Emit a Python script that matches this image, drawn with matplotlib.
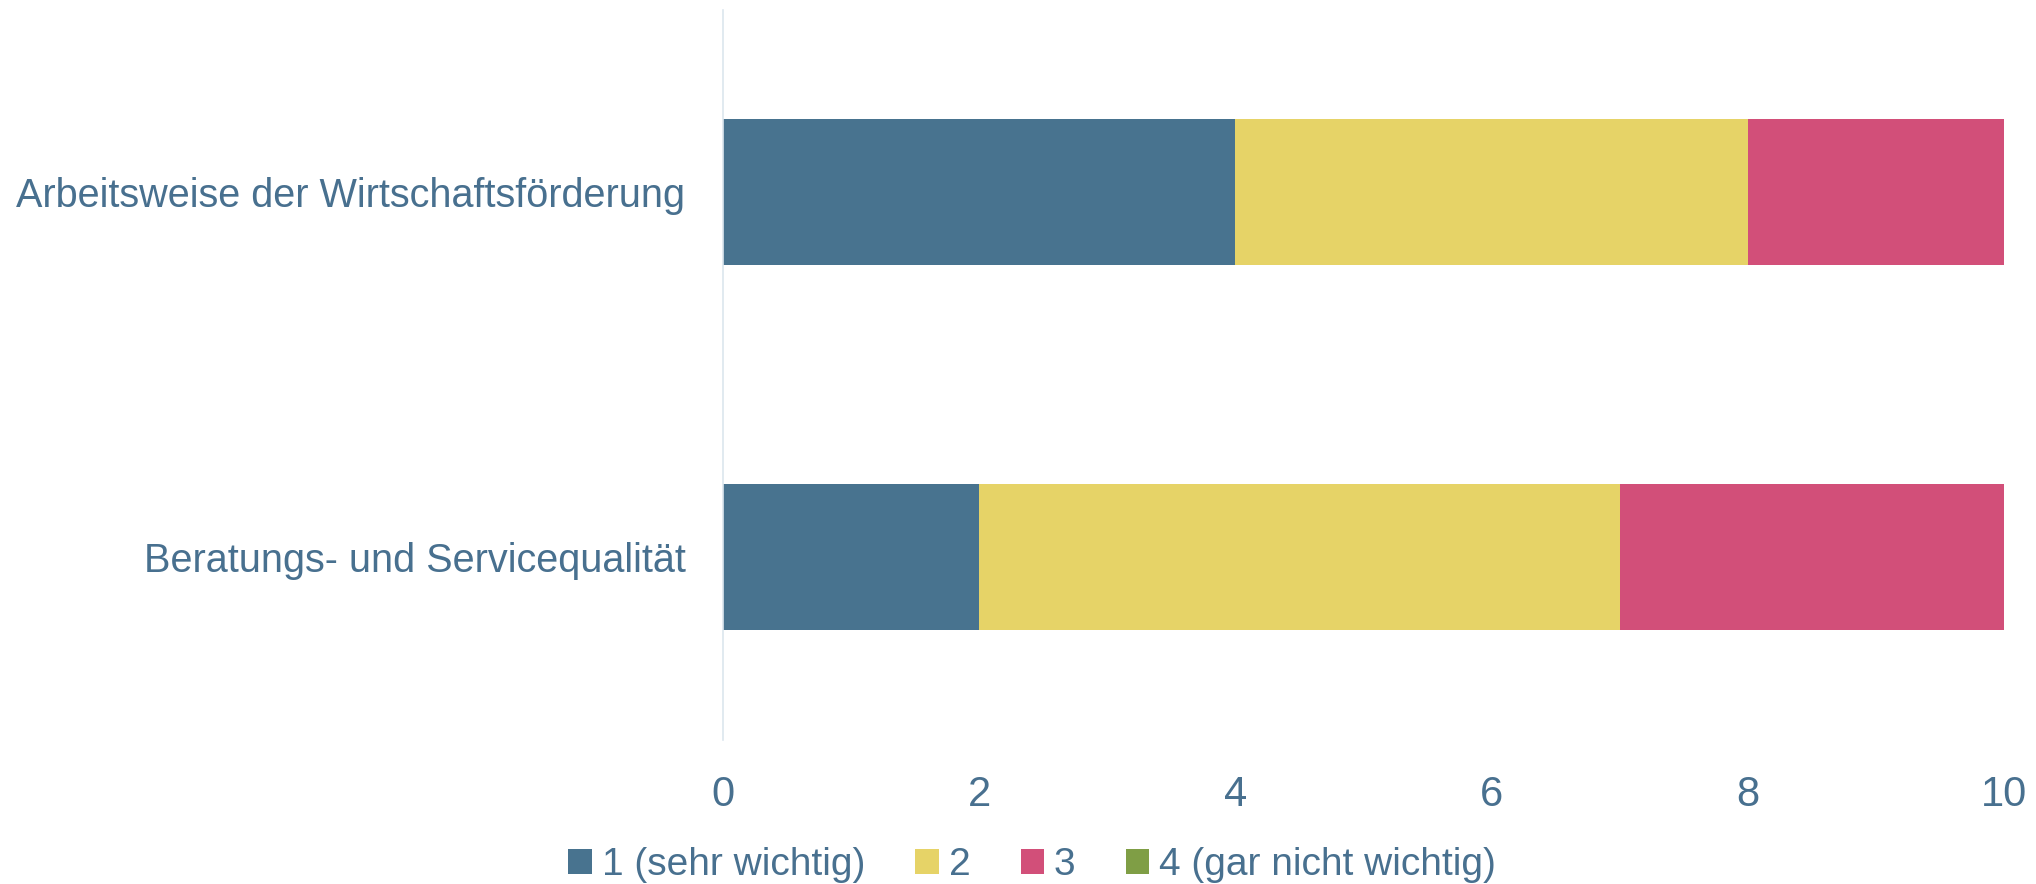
import matplotlib
matplotlib.use("Agg")
import matplotlib.pyplot as plt
from matplotlib import font_manager
from matplotlib.patches import Patch
import numpy as np

# pick a narrow face if one is installed
names = sorted({f.name for f in font_manager.fontManager.ttflist})
family = "Liberation Sans Narrow" if "Liberation Sans Narrow" in names else "Liberation Sans"
plt.rcParams["font.family"] = [family, "DejaVu Sans"]

categories = ["Arbeitsweise der Wirtschaftsförderung", "Beratungs- und Servicequalität"]
series_names = ["1 (sehr wichtig)", "2", "3", "4 (gar nicht wichtig)"]
values = {
    "1 (sehr wichtig)": [4, 2],
    "2": [4, 5],
    "3": [2, 3],
    "4 (gar nicht wichtig)": [0, 0],
}
colors = ["#48738f", "#e6d367", "#d24f79", "#7f9e45"]
xticks = [0, 2, 4, 6, 8, 10]

text_color = "#48708f"

fig = plt.figure(figsize=(20.36, 8.84), dpi=100)
ax = fig.add_axes([0.3551, 0.1629, 0.6292, 0.8258])

y = np.arange(len(categories))
left = np.zeros(len(categories))
for name, col in zip(series_names, colors):
    v = np.array(values[name], dtype=float)
    ax.barh(y, v, left=left, height=0.4, color=col, linewidth=0)
    left += v

ax.set_ylim(1.5, -0.5)
ax.set_xlim(0, 10)
ax.set_yticks(y)
ax.set_yticklabels(categories)
ax.set_xticks(xticks)
ax.set_xticklabels([str(t) for t in xticks])
ax.tick_params(axis="x", length=0, labelsize=30, labelcolor=text_color, pad=25)
ax.tick_params(axis="y", length=0, labelsize=28.5, labelcolor=text_color, pad=27)

for s in ["top", "right", "bottom"]:
    ax.spines[s].set_visible(False)
ax.spines["left"].set_color("#dce6ee")
ax.spines["left"].set_linewidth(1.2)

handles = [Patch(facecolor=c, edgecolor="none") for c in colors]
fig.legend(handles, series_names, loc="center", bbox_to_anchor=(0.507, 0.021),
           ncol=4, frameon=False, fontsize=28, labelcolor=text_color,
           handlelength=0.6, handleheight=0.6, handletextpad=0.25, columnspacing=1.3)

fig.savefig("out.png", dpi=100)
